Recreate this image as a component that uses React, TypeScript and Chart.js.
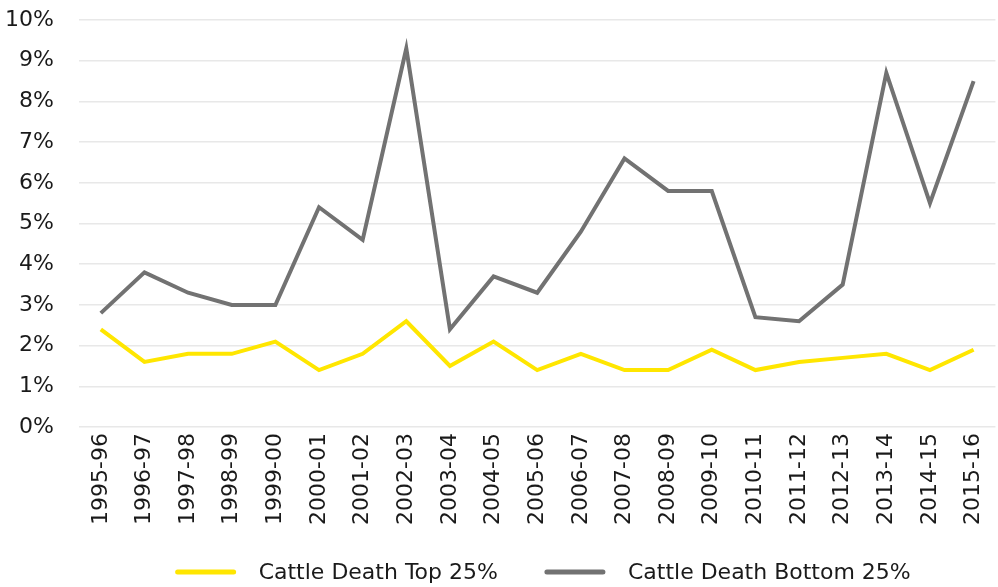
import React, { useEffect, useRef } from "react";
import { Chart, registerables } from "chart.js";

Chart.register(...registerables);

const seasons = [
  "1995-96", "1996-97", "1997-98", "1998-99", "1999-00", "2000-01", "2001-02",
  "2002-03", "2003-04", "2004-05", "2005-06", "2006-07", "2007-08", "2008-09",
  "2009-10", "2010-11", "2011-12", "2012-13", "2013-14", "2014-15", "2015-16",
];

// Cattle death rate (%) for the top 25% of farms
const deathTop25 = [
  2.4, 1.6, 1.8, 1.8, 2.1, 1.4, 1.8, 2.6, 1.5, 2.1, 1.4,
  1.8, 1.4, 1.4, 1.9, 1.4, 1.6, 1.7, 1.8, 1.4, 1.9,
];

// Cattle death rate (%) for the bottom 25% of farms
const deathBottom25 = [
  2.8, 3.8, 3.3, 3.0, 3.0, 5.4, 4.6, 9.3, 2.4, 3.7, 3.3,
  4.8, 6.6, 5.8, 5.8, 2.7, 2.6, 3.5, 8.7, 5.5, 8.5,
];

const seriesNames = ["Cattle Death Top 25%", "Cattle Death Bottom 25%"];
const seriesColors = ["#FFE600", "#727272"];

const FONT = '"DejaVu Sans", sans-serif';
const TEXT = "#1a1a1a";

// Legend drawn as short line swatches centred under the plot
const lineLegend = {
  id: "lineLegend",
  afterDraw(chart: any) {
    const ctx = chart.ctx as CanvasRenderingContext2D;
    const swatch = 60;
    const gap = 23;
    const spacing = 47;
    ctx.save();
    ctx.font = `22px ${FONT}`;
    const items = chart.data.datasets.map((ds: any) => ({
      label: ds.label as string,
      color: ds.borderColor as string,
      w: ctx.measureText(ds.label).width,
    }));
    const total =
      items.reduce((s: number, it: any) => s + swatch + gap + it.w, 0) +
      spacing * (items.length - 1);
    const area = chart.chartArea;
    let x = (area.left + area.right) / 2 + 6 - total / 2;
    const y = chart.height - 15;
    ctx.textBaseline = "middle";
    ctx.textAlign = "left";
    for (const it of items) {
      ctx.strokeStyle = it.color;
      ctx.lineWidth = 5;
      ctx.lineCap = "round";
      ctx.beginPath();
      ctx.moveTo(x + 2, y);
      ctx.lineTo(x + swatch - 2, y);
      ctx.stroke();
      ctx.fillStyle = TEXT;
      ctx.fillText(it.label, x + swatch + gap, y + 1);
      x += swatch + gap + it.w + spacing;
    }
    ctx.restore();
  },
};

export default function App() {
  const canvasRef = useRef<HTMLCanvasElement | null>(null);

  useEffect(() => {
    if (!canvasRef.current) return;
    const chart = new Chart(canvasRef.current, {
      type: "line",
      data: {
        labels: seasons,
        datasets: [
          {
            label: seriesNames[0],
            data: deathTop25,
            borderColor: seriesColors[0],
            backgroundColor: seriesColors[0],
            borderWidth: 4,
            pointRadius: 0,
            tension: 0,
          },
          {
            label: seriesNames[1],
            data: deathBottom25,
            borderColor: seriesColors[1],
            backgroundColor: seriesColors[1],
            borderWidth: 4,
            pointRadius: 0,
            tension: 0,
          },
        ],
      },
      options: {
        animation: false,
        responsive: true,
        maintainAspectRatio: false,
        layout: { padding: { top: 20, left: 0, right: 0, bottom: 56 } },
        plugins: {
          legend: { display: false },
          tooltip: { enabled: false },
        },
        scales: {
          x: {
            offset: true,
            grid: { display: false, drawTicks: false },
            border: { display: false },
            ticks: {
              maxRotation: 90,
              minRotation: 90,
              padding: 6,
              color: TEXT,
              font: { family: FONT, size: 22 },
            },
          },
          y: {
            min: 0,
            max: 10,
            grid: { color: "#e8e8e8", lineWidth: 1.5, drawTicks: false },
            border: { display: false },
            ticks: {
              stepSize: 1,
              padding: 25,
              color: TEXT,
              font: { family: FONT, size: 22 },
              callback: (v: any) => `${v}%`,
            },
            afterFit: (scale: any) => {
              scale.width = 79;
              scale.paddingTop = 13;
              scale.paddingBottom = 0;
            },
          },
        },
      },
      plugins: [lineLegend],
    });
    return () => chart.destroy();
  }, []);

  return (
    <div
      style={{
        position: "absolute",
        left: 0,
        top: 0,
        width: 998,
        height: 587,
        overflow: "hidden",
        background: "#fff",
      }}
    >
      <div style={{ position: "relative", width: 1006, height: 587 }}>
        <canvas ref={canvasRef} />
      </div>
    </div>
  );
}
